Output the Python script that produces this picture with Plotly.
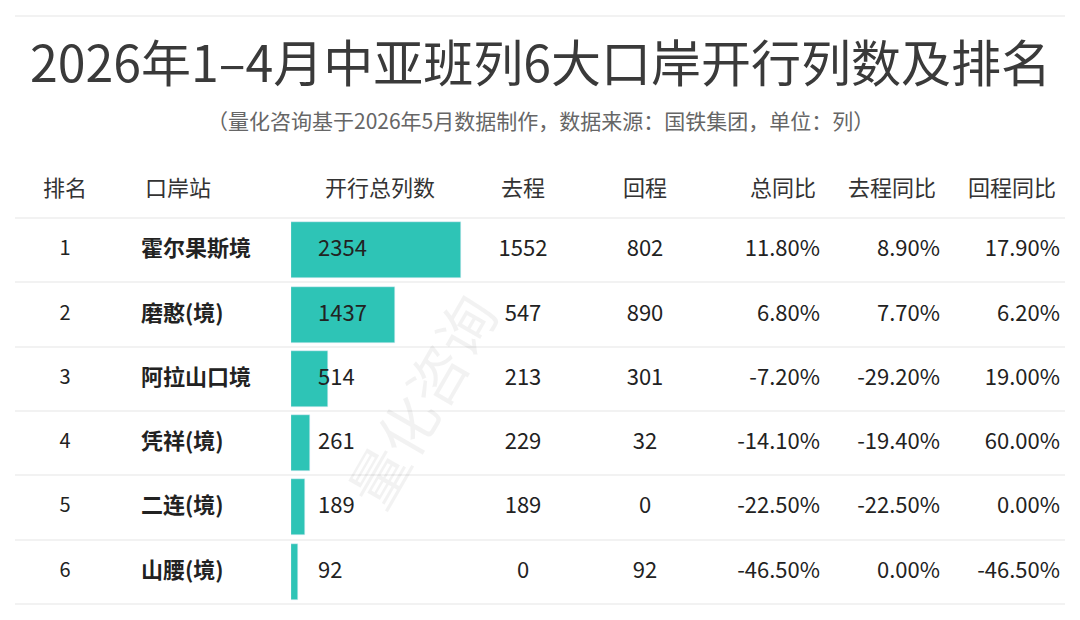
import plotly.graph_objects as go

title = "2026年1–4月中亚班列6大口岸开行列数及排名"
subtitle = "（量化咨询基于2026年5月数据制作，数据来源：国铁集团，单位：列）"
headers = ["排名", "口岸站", "开行总列数", "去程", "回程", "总同比", "去程同比", "回程同比"]
ranks = [1, 2, 3, 4, 5, 6]
stations = ["霍尔果斯境", "磨憨(境)", "阿拉山口境", "凭祥(境)", "二连(境)", "山腰(境)"]
total = [2354, 1437, 514, 261, 189, 92]
outbound = [1552, 547, 213, 229, 189, 0]
inbound = [802, 890, 301, 32, 0, 92]
yoy_total = ["11.80%", "6.80%", "-7.20%", "-14.10%", "-22.50%", "-46.50%"]
yoy_out = ["8.90%", "7.70%", "-29.20%", "-19.40%", "-22.50%", "0.00%"]
yoy_in = ["17.90%", "6.20%", "19.00%", "60.00%", "0.00%", "-46.50%"]

W, H = 1080, 620
OFF = 8  # page body margin
FONT = "Noto Sans CJK SC"
TEAL = "#2EC4B6"
row_y = [250, 315, 379, 443, 507, 572]
head_y = 186
SIZE = 22

fig = go.Figure()

# bars on their own x axis occupying the bar column
fig.add_trace(go.Bar(
    x=total, y=row_y, orientation="h", width=56, marker_color=TEAL,
    xaxis="x2", yaxis="y", hoverinfo="skip", showlegend=False,
))

def col(xpos, texts, pos, size=SIZE, bold=False, color="#222"):
    if bold:
        texts = [f"<b>{t}</b>" for t in texts]
    fig.add_trace(go.Scatter(
        x=[xpos] * len(texts), y=row_y, mode="text", text=[str(t) for t in texts],
        textposition=pos, textfont=dict(family=FONT, size=size, color=color),
        hoverinfo="skip", showlegend=False,
    ))

col(65, ranks, "middle center", size=20)
col(141, stations, "middle right", bold=True)
col(523, outbound, "middle center")
col(645, inbound, "middle center")
col(820, yoy_total, "middle left")
col(940, yoy_out, "middle left")
col(1060, yoy_in, "middle left")

anns = []
# total column as annotations so it sits on top of the bars
for v, ry in zip(total, row_y):
    anns.append(dict(x=316, y=ry - 4, text=str(v), showarrow=False, xanchor="left",
                     font=dict(family=FONT, size=SIZE, color="#222")))

head_x = [65, 143, 380, 523, 645, 818, 938, 1058]
head_anchor = ["center", "left", "center", "center", "center", "right", "right", "right"]
for hx, ht, ha in zip(head_x, headers, head_anchor):
    anns.append(dict(x=hx, y=head_y, text=ht, showarrow=False, xanchor=ha,
                     font=dict(family=FONT, size=SIZE, color="#333")))
anns.append(dict(x=540, y=60, text=title, showarrow=False,
                 font=dict(family=FONT, size=50, color="#3a3a3a")))
anns.append(dict(x=540, y=120, text=subtitle, showarrow=False,
                 font=dict(family=FONT, size=21, color="#666")))
anns.append(dict(x=420, y=400, text="量化咨询", showarrow=False, textangle=-60,
                 font=dict(family=FONT, size=58, color="rgba(0,0,0,0.05)")))

shapes = []
for ly in [16, 218, 282, 347, 411, 475, 540, 604]:
    shapes.append(dict(type="line", x0=15, x1=1065, y0=ly, y1=ly,
                       line=dict(color="#e6e6e6", width=1.2), layer="below"))

fig.update_layout(
    width=W, height=H, margin=dict(l=0, r=0, t=0, b=0),
    plot_bgcolor="rgba(0,0,0,0)", paper_bgcolor="white",
    xaxis=dict(range=[OFF, W + OFF], visible=False, domain=[0, 1]),
    xaxis2=dict(domain=[(291 - OFF) / W, 1], range=[0, (W + OFF - 291) * 2354 / 170],
                visible=False, anchor="y"),
    yaxis=dict(range=[H + OFF, OFF], visible=False),
    annotations=anns, shapes=shapes, bargap=0,
)

fig.write_html("out.html")
